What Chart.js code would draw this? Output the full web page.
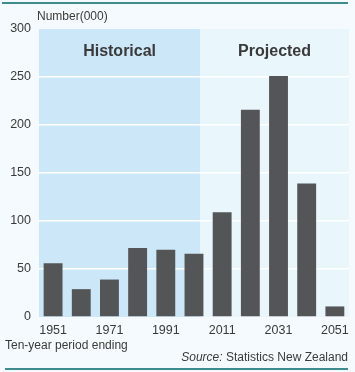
<!DOCTYPE html>
<html>
<head>
<meta charset="utf-8">
<script src="https://cdn.jsdelivr.net/npm/chart.js@4"></script>
<style>
html,body{margin:0;padding:0;background:#f4fafd;}
#wrap{position:relative;width:355px;height:372px;}
canvas{display:block;}
</style>
</head>
<body>
<div id="wrap"><canvas id="c" width="355" height="372"></canvas></div>
<script>
const categories = ["1951","1961","1971","1981","1991","2001","2011","2021","2031","2041","2051"];
const values = [56, 29, 39, 72, 70, 66, 109, 216, 251, 139, 11];
const yTicks = [0, 50, 100, 150, 200, 250, 300];
const historicalCount = 6;
const texts = {
  unit: "Number(000)",
  hist: "Historical",
  proj: "Projected",
  xTitle: "Ten-year period ending",
  srcLabel: "Source:",
  srcText: " Statistics New Zealand"
};

const FONT = "'Liberation Sans', Arial, sans-serif";
const TXT = "#3a3a3a";

const decor = {
  id: 'decor',
  beforeDraw(chart) {
    const ctx = chart.ctx, a = chart.chartArea, x = chart.scales.x;
    ctx.save();
    ctx.fillStyle = '#f4fafd';
    ctx.fillRect(0, 0, chart.width, chart.height);
    const cw = (a.right - a.left) / categories.length;
    const boundary = x.getPixelForValue(historicalCount - 1) + cw * 0.22;
    ctx.fillStyle = '#cce7f7';
    ctx.fillRect(a.left, a.top, boundary - a.left, a.bottom - a.top);
    ctx.fillStyle = '#e9f6fc';
    ctx.fillRect(boundary, a.top, a.right - boundary, a.bottom - a.top);
    chart.$boundary = boundary;
    ctx.restore();
  },
  afterDraw(chart) {
    const ctx = chart.ctx, a = chart.chartArea;
    const boundary = chart.$boundary;
    ctx.save();
    ctx.strokeStyle = '#3f8c90';
    ctx.lineWidth = 2;
    ctx.beginPath(); ctx.moveTo(2, 3); ctx.lineTo(348, 3); ctx.stroke();
    ctx.beginPath(); ctx.moveTo(5, 369); ctx.lineTo(348, 369); ctx.stroke();
    ctx.fillStyle = TXT;
    ctx.textBaseline = 'middle';
    ctx.font = "12px " + FONT;
    ctx.textAlign = 'left';
    ctx.fillText(texts.unit, 37, 17);
    ctx.fillText(texts.xTitle, 5, 346);
    ctx.font = "12px " + FONT;
    const w2 = ctx.measureText(texts.srcText).width;
    ctx.font = "italic 12px " + FONT;
    const w1 = ctx.measureText(texts.srcLabel).width;
    const right = 348;
    ctx.fillText(texts.srcLabel, right - w2 - w1, 358);
    ctx.font = "12px " + FONT;
    ctx.fillText(texts.srcText, right - w2, 358);
    ctx.font = "bold 16px " + FONT;
    ctx.textAlign = 'center';
    ctx.fillText(texts.hist, (a.left + boundary) / 2, 52);
    ctx.fillText(texts.proj, (boundary + a.right) / 2, 52);
    ctx.restore();
  }
};

new Chart(document.getElementById('c'), {
  type: 'bar',
  data: {
    labels: categories,
    datasets: [{
      data: values,
      backgroundColor: '#545557',
      borderWidth: 0,
      barPercentage: 0.67,
      categoryPercentage: 1.0
    }]
  },
  options: {
    responsive: false,
    animation: false,
    devicePixelRatio: 1,
    layout: { padding: { top: 29, right: 5, bottom: 33, left: 0 } },
    plugins: { legend: { display: false }, tooltip: { enabled: false } },
    scales: {
      x: {
        grid: { display: false, drawTicks: false },
        border: { display: false },
        afterFit(s) { s.height = 22; },
        ticks: {
          autoSkip: false,
          maxRotation: 0,
          padding: 6,
          color: TXT,
          font: { family: FONT, size: 12.5 },
          callback(v, i) { return i % 2 === 0 ? categories[i] : ''; }
        }
      },
      y: {
        min: yTicks[0],
        max: yTicks[yTicks.length - 1],
        afterFit(s) { s.width = 39; },
        afterBuildTicks(s) { s.ticks = yTicks.map(v => ({ value: v })); },
        grid: {
          color: (c) => (c.tick && (c.tick.value === 0 || c.tick.value === 300)) ? 'rgba(0,0,0,0)' : '#ffffff',
          lineWidth: 1.5,
          drawTicks: false
        },
        border: { display: false },
        ticks: {
          padding: 8,
          color: TXT,
          font: { family: FONT, size: 12.5 }
        }
      }
    }
  },
  plugins: [decor]
});
</script>
</body>
</html>
